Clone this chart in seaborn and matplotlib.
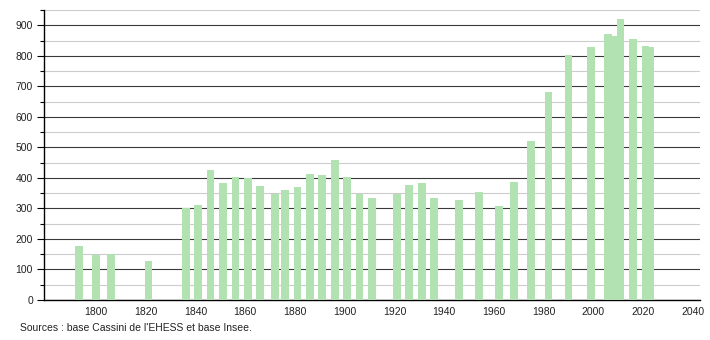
import matplotlib
matplotlib.use("Agg")
import matplotlib.pyplot as plt
import seaborn as sns
import pandas as pd
import numpy as np
from matplotlib.ticker import MultipleLocator

years = [1793, 1800, 1806, 1821, 1836, 1841, 1846, 1851, 1856, 1861, 1866,
         1872, 1876, 1881, 1886, 1891, 1896, 1901, 1906, 1911, 1921, 1926,
         1931, 1936, 1946, 1954, 1962, 1968, 1975, 1982, 1990, 1999, 2006,
         2008, 2011, 2016, 2021, 2023]
population = [177, 148, 151, 128, 302, 312, 427, 384, 404, 400, 375,
              348, 361, 371, 414, 411, 460, 404, 348, 335, 348, 378,
              384, 335, 329, 355, 309, 388, 522, 683, 802, 828, 871,
              866, 920, 854, 831, 828]
x_ticks = [1800, 1820, 1840, 1860, 1880, 1900, 1920, 1940, 1960, 1980, 2000, 2020, 2040]
y_ticks = [0, 100, 200, 300, 400, 500, 600, 700, 800, 900]
source_text = "Sources : base Cassini de l'EHESS et base Insee."

sns.set_theme(style="white")
plt.rcParams['font.family'] = ['Liberation Sans', 'DejaVu Sans']

df = pd.DataFrame({"year": years, "pop": population})

fig = plt.figure(figsize=(7.1, 3.4), dpi=100)
ax = fig.add_axes([0.062, 0.1176, 0.924, 0.853])

bar_years = 3.1
min_gap = np.min(np.diff(sorted(set(years))))
sns.barplot(data=df, x="year", y="pop", native_scale=True, ax=ax,
            color="#b2e2b2", saturation=1, errorbar=None,
            width=bar_years / min_gap, linewidth=0, zorder=3)

ax.set_xlim(1779, 2043)
ax.set_ylim(0, 950)
ax.set_xticks(x_ticks)
ax.set_yticks(y_ticks)
ax.yaxis.set_minor_locator(MultipleLocator(50))
ax.grid(False)
ax.yaxis.grid(True, which="major", color="#3a3a3a", linewidth=0.8, zorder=1)
ax.yaxis.grid(True, which="minor", color="#cccccc", linewidth=0.8, zorder=1)
ax.set_axisbelow(True)

for s in ["top", "right"]:
    ax.spines[s].set_visible(False)
for s in ["left", "bottom"]:
    ax.spines[s].set_color("black")
    ax.spines[s].set_linewidth(1.0)

ax.tick_params(axis="y", which="major", left=True, length=5, width=0.8,
               color="black", labelsize=7.5, pad=3, labelcolor="#222222")
ax.tick_params(axis="y", which="minor", left=True, length=3, width=0.8, color="black")
ax.tick_params(axis="x", which="both", bottom=False, length=0, labelsize=7.5,
               pad=5, labelcolor="#222222")
ax.set_xlabel("")
ax.set_ylabel("")

fig.text(20 / 710, 1 - 328 / 340, source_text, fontsize=7.5, color="#222222",
         ha="left", va="center")

fig.savefig("out.png", dpi=100)
